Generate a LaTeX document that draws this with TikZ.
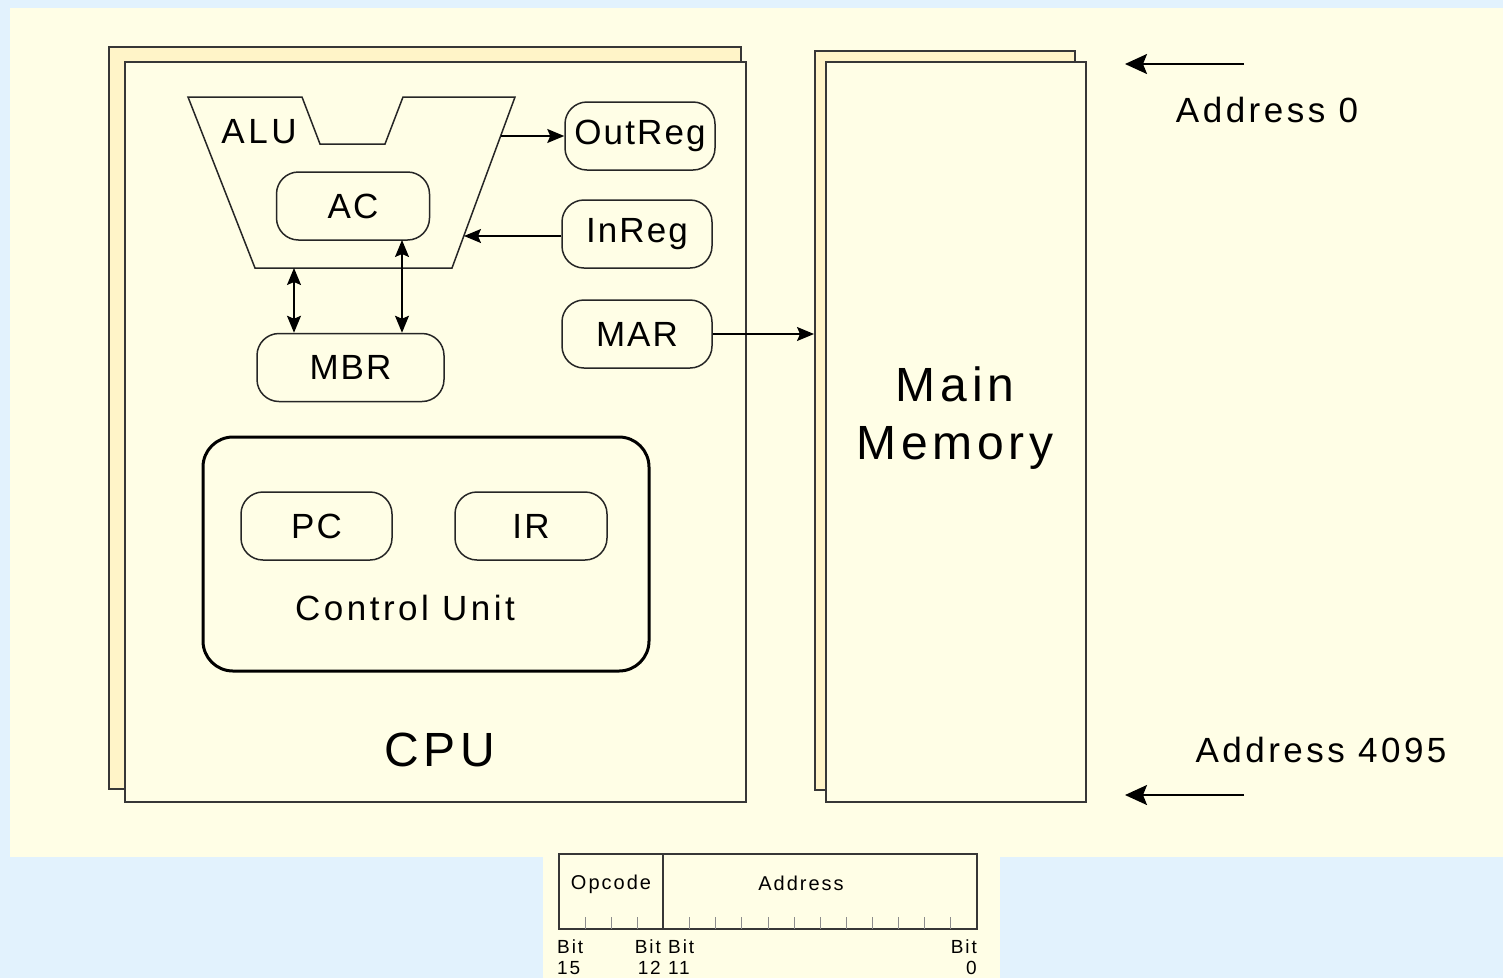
\documentclass[tikz,border=0pt]{standalone}
\usepackage{fontspec}
\setmainfont{Liberation Sans}
\newfontfamily\widefont{Liberation Sans}[LetterSpace=10]
\newfontfamily\regfont{Liberation Sans}[LetterSpace=6]
\usetikzlibrary{arrows.meta,positioning}

\definecolor{skyback}{RGB}{226,242,253}
\definecolor{paper}{RGB}{255,254,230}
\definecolor{backsheet}{RGB}{255,244,200}
\definecolor{edge}{RGB}{55,55,55}

\tikzset{
  sheet/.style={draw=edge, line width=2pt, fill=paper, inner sep=0pt},
  reg/.style={draw=black!85, line width=1.5pt, fill=paper, rounded corners=22pt,
    minimum width=150pt, minimum height=68pt, inner sep=0pt,
    font=\regfont\fontsize{35}{40}\selectfont},
  tip/.style={-{Stealth[length=17pt,width=14pt,inset=3pt]}, line width=1.5pt},
  dtip/.style={{Stealth[length=17pt,width=14pt,inset=3pt]}-{Stealth[length=17pt,width=14pt,inset=3pt]}, line width=1.5pt},
  bigtip/.style={-{Stealth[length=22pt,width=20pt,inset=4pt]}, line width=2pt},
  bitlabel/.style={inner sep=0pt, align=left, font=\widefont\fontsize{19}{21}\selectfont}
}

\begin{document}
\begin{tikzpicture}[x=1pt, y=-1pt]
    \newcommand{\midsize}{\widefont\fontsize{35}{40}\selectfont}
    \newcommand{\largesize}{\widefont\fontsize{48}{58}\selectfont}
    \newcommand{\bitwidth}{26.125}

    \useasboundingbox (0,0) rectangle (1503,978);
    \fill [skyback] (0,0) rectangle (1503,978);
    \fill [paper] (10,8) rectangle (1503,857);
    \fill [paper] (543,857) rectangle (1000,978);

    % cpu and memory sheets
    \draw [sheet, fill=backsheet] (109,47) rectangle (741,789);
    \node [sheet, minimum width=621pt, minimum height=740pt] (cpu) at (435.5,432) {};
    \node [sheet, fill=backsheet, minimum width=260pt, minimum height=739pt] (memback) at (945,420.5) {};
    \node [sheet, minimum width=260pt, minimum height=740pt] (mem) at (956,432) {};

    \node [font=\largesize] (cpulabel) at (440,750) {CPU};
    \node [font=\largesize, align=center] (memlabel) at (955,418) {Main\\Memory};

    % alu outline
    \coordinate (A1) at (188,97);
    \coordinate (A2) at (302,97);
    \coordinate (A3) at (320,144);
    \coordinate (A4) at (385,144);
    \coordinate (A5) at (403,97);
    \coordinate (A6) at (515,97);
    \coordinate (A7) at (452,268);
    \coordinate (A8) at (255,268);
    \draw [line width=1.5pt, black!85] (A1) -- (A2) -- (A3) -- (A4) -- (A5) -- (A6) -- (A7) -- (A8) -- cycle;
    \node [font=\midsize] (alulabel) at (259,132) {ALU};

    \coordinate (aluout) at (501,136);
    \coordinate (aluin) at (464,236);
    \coordinate (alufoot) at (294,268);
    \coordinate (acfoot) at (402,240);

    % registers
    \node [reg, minimum width=153pt] (ac) at (353,206) {AC};
    \node [reg] (outreg) at (640,136) {OutReg};
    \node [reg] (inreg) at (637,234) {InReg};
    \node [reg] (mar) at (637,334) {MAR};
    \node [reg, minimum width=187pt] (mbr) at (350.5,367.5) {MBR};

    % control unit
    \node [draw=black, line width=3pt, rounded corners=30pt, minimum width=446pt,
        minimum height=234pt] (cu) at (426,554) {};
    \node [reg, minimum width=151pt] (pc) at (316.5,526) {PC};
    \node [reg, minimum width=152pt] (ir) at (531,526) {IR};
    \node [font=\midsize] (culabel) at (405,608) {Control Unit};

    \draw [tip] (aluout) -- (outreg.west);
    \draw [tip] (inreg.west |- aluin) -- (aluin);
    \draw [tip] (mar.east) -- (memback.west |- mar.east);
    \draw [dtip] (alufoot) -- (alufoot |- mbr.north);
    \draw [dtip] (acfoot) -- (acfoot |- mbr.north);

    % address arrows
    \coordinate (firsttail) at (1244,64);
    \coordinate (firsthead) at (1125,64);
    \coordinate (lasttail) at (1244,795);
    \coordinate (lasthead) at (1125,795);
    \draw [bigtip] (firsttail) -- (firsthead);
    \draw [bigtip] (lasttail) -- (lasthead);
    \node [font=\midsize] (addrfirst) at (1267,110) {Address 0};
    \node [font=\midsize] (addrlast) at (1321,750) {Address 4095};

    % instruction format
    \node [draw=edge, line width=1.5pt, minimum width=418pt, minimum height=75pt,
        inner sep=0pt] (word) at (768,891.5) {};
    \draw [edge, line width=1.5pt] (663,854) -- (663,929);
    \foreach \k in {1,2,3,5,6,...,15}
        \draw [black!45, line width=1pt] (559+\k*\bitwidth,917) -- (559+\k*\bitwidth,929);
    \node [font=\widefont\fontsize{20}{22}\selectfont] (opcode) at (611,884) {Opcode};
    \node [font=\widefont\fontsize{20}{22}\selectfont] (address) at (801,883) {Address};

    \node [bitlabel, anchor=north west] (bitfifteen) at (557,940) {Bit\\15};
    \node [bitlabel, anchor=north east, align=right] (bittwelve) at (661,940) {Bit\\12};
    \node [bitlabel, anchor=north west] (biteleven) at (668,940) {Bit\\11};
    \node [bitlabel, anchor=north east, align=right] (bitzero) at (977,940) {Bit\\0};
\end{tikzpicture}
\end{document}
